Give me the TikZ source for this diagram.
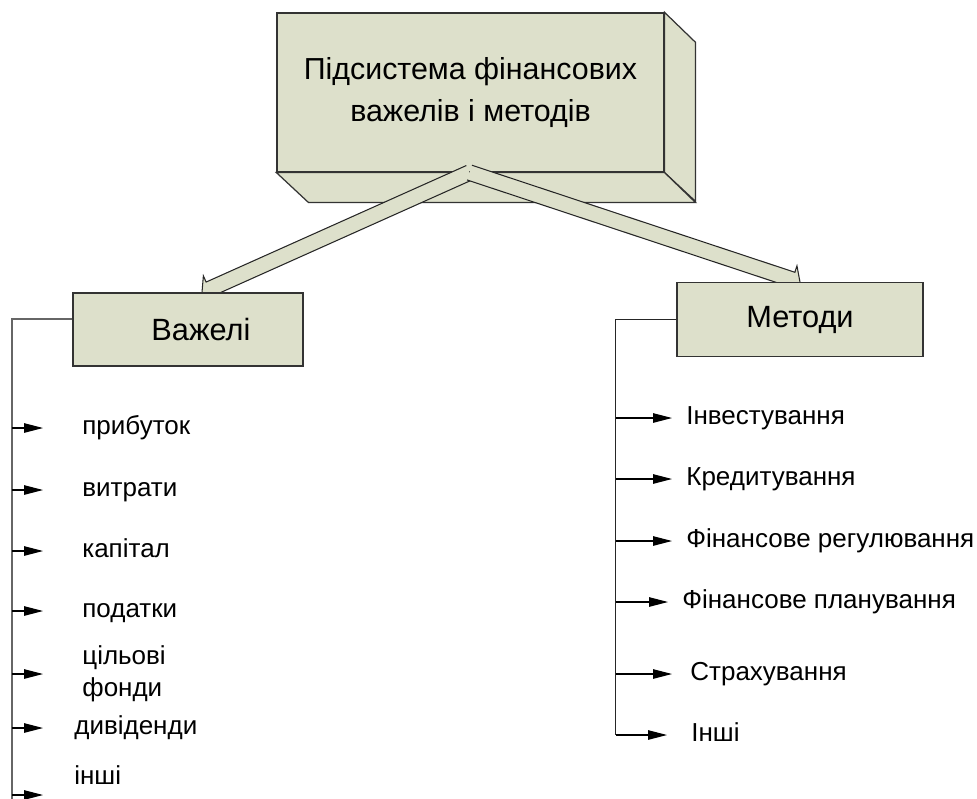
\documentclass[tikz,border=0pt]{standalone}
\usepackage{fontspec}
\setmainfont{Liberation Sans}
\usetikzlibrary{arrows.meta,calc}
\pgfdeclarelayer{back}
\pgfdeclarelayer{mid}
\pgfsetlayers{back,mid,main}
\definecolor{boxfill}{RGB}{221,224,203}
\tikzset{
  box/.style={draw=black!80, line width=0.7pt, fill=boxfill},
  boxlabel/.style={box, font=\fontsize{17.5}{21}\selectfont},
  item/.style={anchor=west, inner sep=0pt, font=\fontsize{14.8}{18.2}\selectfont},
  word/.style={item, text height=10.8pt, text depth=3.1pt},
  branch/.style={black, line width=0.6pt, -{Triangle[length=0.38cm,width=0.19cm]}},
  trunk/.style={line width=0.6pt},
  blockarrow/.style={draw=black!85, line width=0.6pt, fill=boxfill, line join=miter},
}
\begin{document}
\begin{tikzpicture}[x=0.02cm, y=-0.02cm]
  \useasboundingbox (0,0) rectangle (977,798);
  \begin{pgfonlayer}{back}
  \filldraw[fill=white, draw=none] (0,0) rectangle (977,798);
  \node[boxlabel, minimum width=7.74cm, minimum height=3.18cm, align=center, font=\fontsize{17.3}{21}\selectfont] (subsys) at (470.5,92.5) {Підсистема фінансових\\[2.5pt]важелів і методів};
  \filldraw[box] (subsys.north east) -- ++(31,30) -- ++(0,159) -- (subsys.south east) -- cycle;
  \filldraw[box] (subsys.south west) -- (subsys.south east) -- ++(31,30) -- ++(-387,0) -- cycle;
  \end{pgfonlayer}
  \node[boxlabel, minimum width=4.6cm, minimum height=1.46cm] (levers) at (188,329.5) {\hspace*{14.8pt}Важелі};
  \node[boxlabel, minimum width=4.92cm, minimum height=1.47cm] (methods) at (800,319.5) {Методи};
  \coordinate (apex) at ([xshift=-0.02cm]subsys.south);
  \coordinate (levtip) at ([xshift=0.28cm]levers.north);
  \coordinate (mettip) at (methods.north);
  \coordinate (levbase) at ($(levtip)!0.16cm!(apex)$);
  \coordinate (metbase) at ($(mettip)!0.16cm!(apex)$);
  \begin{pgfonlayer}{mid}
  \filldraw[blockarrow] ($(apex)!0.155cm!-90:(levtip)$) -- ($(levbase)!0.155cm!-90:(levtip)$) -- ($(levbase)!0.29cm!-90:(levtip)$) -- (levtip) -- ($(levbase)!0.29cm!90:(levtip)$) -- ($(levbase)!0.155cm!90:(levtip)$) -- ($(apex)!0.155cm!90:(levtip)$);
  \filldraw[blockarrow] ($(apex)!0.155cm!-90:(mettip)$) -- ($(metbase)!0.155cm!-90:(mettip)$) -- ($(metbase)!0.29cm!-90:(mettip)$) -- (mettip) -- ($(metbase)!0.29cm!90:(mettip)$) -- ($(metbase)!0.155cm!90:(mettip)$) -- ($(apex)!0.155cm!90:(mettip)$);
  \end{pgfonlayer}
  \coordinate (levend) at (12,800);
  \coordinate (metend) at (615.5,735);
  \draw[trunk, black!60] ([yshift=0.21cm]levers.west) -| (levend);
  \draw[trunk, black!85] (methods.west) -| (metend);
  \node[word] (profit) at (82,428) {прибуток};
  \node[word] (costs) at (82,490) {витрати};
  \node[word] (capital) at (82,551) {капітал};
  \node[word] (taxes) at (82,611) {податки};
  \node[item, align=left] (funds) at (82,674) {цільові\\фонди};
  \node[word] (divid) at (74,728) {дивіденди};
  \node[word] (levother) at (74,778) {інші};
  \coordinate (lotip) at ([xshift=-0.62cm, yshift=-0.34cm]levother.west);
  \draw[branch] (levend |- profit.west) -- ([xshift=-0.78cm]profit.west);
  \draw[branch] (levend |- costs.west) -- ([xshift=-0.78cm]costs.west);
  \draw[branch] (levend |- capital.west) -- ([xshift=-0.78cm]capital.west);
  \draw[branch] (levend |- taxes.west) -- ([xshift=-0.78cm]taxes.west);
  \draw[branch] (levend |- funds.west) -- ([xshift=-0.78cm]funds.west);
  \draw[branch] (levend |- divid.west) -- ([xshift=-0.62cm]divid.west);
  \draw[branch] (levend |- lotip) -- (lotip);
  \node[word] (invest) at (686,418) {Інвестування};
  \node[word] (credit) at (686,479) {Кредитування};
  \node[word] (regul) at (686,541) {Фінансове регулювання};
  \node[word] (plan) at (682,602) {Фінансове планування};
  \node[word] (insur) at (690,674) {Страхування};
  \node[word] (metother) at (691,735) {Інші};
  \draw[branch] (metend |- invest.west) -- ([xshift=-0.28cm]invest.west);
  \draw[branch] (metend |- credit.west) -- ([xshift=-0.28cm]credit.west);
  \draw[branch] (metend |- regul.west) -- ([xshift=-0.28cm]regul.west);
  \draw[branch] (metend |- plan.west) -- ([xshift=-0.28cm]plan.west);
  \draw[branch] (metend |- insur.west) -- ([xshift=-0.36cm]insur.west);
  \draw[branch] (metend) -- ([xshift=-0.48cm]metother.west);
\end{tikzpicture}
\end{document}
